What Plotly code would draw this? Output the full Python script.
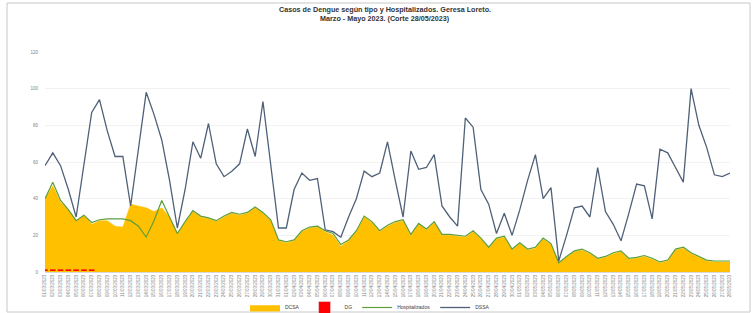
import plotly.graph_objects as go
import pandas as pd

fechas = [d.strftime("%d/%m/%Y") for d in pd.date_range("2023-03-01", "2023-05-28", freq="D")]

dcsa = [40, 47, 38, 34, 28, 31, 26, 28, 28, 25, 24.5, 37, 36, 35, 33, 35, 30, 21, 27, 33,
        30, 29, 27.5, 30, 32, 31, 32, 35, 32, 28, 17, 16, 17, 22, 24, 24.5, 22, 20, 14, 17,
        22, 30, 27, 22, 25, 27, 28, 20, 26, 23, 27, 20, 20, 19.5, 19, 22, 18, 13, 18, 19,
        12, 15.5, 12, 13, 18, 15, 5, 8, 11, 12, 10, 7, 8, 10, 11, 7, 7.5, 8.5, 7, 5,
        6, 12, 13, 10, 8, 6, 5.5, 5.5, 5.5]

dg = [1, 1, 1, 1, 1, 1, 1] + [None] * 82

hosp = [40, 49, 39, 34, 28, 31, 27, 28.5, 29, 29, 29, 28, 25, 19, 28, 39, 30, 21, 27.5, 33.5,
        30.5, 29.5, 28, 30.5, 32.5, 31.5, 32.5, 35.5, 32.5, 28.5, 17.5, 16.5, 17.5, 22.5, 24.5, 25, 22.5, 21, 15, 17.5,
        22.5, 30.5, 27.5, 22.5, 25.5, 27.5, 28.5, 20.5, 26.5, 23.5, 27.5, 20.5, 20.5, 20, 19.5, 22.5, 18.5, 13.5, 18.5, 19.5,
        12.5, 16, 12.5, 13.5, 18.5, 15.5, 5, 8.5, 11.5, 12.5, 10.5, 7.5, 8.5, 10.5, 11.5, 7.5, 8, 9, 7.5, 5.5,
        6.5, 12.5, 13.5, 10.5, 8.5, 6.5, 6, 6, 6]

dssa = [58, 65, 58, 45, 30, 58, 87, 94, 77, 63, 63, 36, 68, 98, 86, 72, 50, 24, 45, 71,
        62, 81, 59, 52, 55, 59, 78, 63, 93, 58, 24, 24, 45, 54, 50, 51, 23, 22, 19, 30,
        40, 55, 52, 54, 71, 50, 30, 66, 56, 57, 64, 36, 30, 25, 84, 79, 45, 37, 21, 32,
        20, 34, 50, 64, 40, 46, 6, 20, 35, 36, 30, 57, 33, 26, 17, 32, 48, 47, 29, 67,
        65, 57, 49, 100, 80, 68, 53, 52, 54]

y_ticks = [0, 20, 40, 60, 80, 100, 120]

titulo_1 = "Casos de Dengue según tipo y Hospitalizados. Geresa Loreto."
titulo_2 = "Marzo - Mayo 2023. (Corte 28/05/2023)"

fig = go.Figure()
fig.add_trace(go.Scatter(x=fechas, y=dcsa, name="DCSA", mode="lines", fill="tozeroy",
                         line=dict(color="#FFC000", width=0.5), fillcolor="#FFC000"))
# DG as bars (legend square swatch)
fig.add_trace(go.Bar(x=fechas, y=dg, name="DG", marker=dict(color="#FF0000"), width=0.5))
# DG marks drawn above the area so they stay visible
fig.add_trace(go.Scatter(x=fechas, y=dg, name="DG", mode="markers", showlegend=False,
                         marker=dict(symbol="line-ew-open", size=4, color="#FF0000",
                                     line=dict(color="#FF0000", width=1.6))))
fig.add_trace(go.Scatter(x=fechas, y=hosp, name="Hospitalizados", mode="lines",
                         line=dict(color="#5E9E3A", width=1.2)))
fig.add_trace(go.Scatter(x=fechas, y=dssa, name="DSSA", mode="lines",
                         line=dict(color="#4F6178", width=1.3)))

W, H = 755, 313
L, R, T, B = 45, 25, 52, 41
pw, ph = W - L - R, H - T - B

def px_x(x):
    return (x - L) / pw

def px_y(y):
    return (H - B - y) / ph

fig.add_shape(type="rect", xref="paper", yref="paper",
              x0=px_x(7), x1=px_x(750), y0=px_y(312), y1=px_y(3),
              line=dict(color="#C8C8C8", width=1), fillcolor="rgba(0,0,0,0)", layer="below")

for txt, yy in ((titulo_1, 9.5), (titulo_2, 18.5)):
    fig.add_annotation(text="<b>" + txt + "</b>", xref="paper", yref="paper",
                       x=px_x(385), y=px_y(yy), xanchor="center", yanchor="middle",
                       showarrow=False,
                       font=dict(family="Liberation Sans", size=7.2, color="#333333"))

fig.update_layout(
    width=W, height=H,
    margin=dict(l=L, r=R, t=T, b=B, autoexpand=False),
    paper_bgcolor="white", plot_bgcolor="white",
    font=dict(family="Liberation Sans", color="#595959"),
    showlegend=True,
    legend=dict(orientation="h", x=px_x(370), xanchor="center", y=px_y(322), yanchor="bottom",
                font=dict(size=5, color="#404040"), tracegroupgap=0, itemwidth=30,
                bgcolor="rgba(0,0,0,0)"),
)
fig.update_xaxes(type="category", range=[0, len(fechas) - 1], tickangle=-90, automargin=False,
                 tickfont=dict(size=4.5, color="#7F7F7F"), showgrid=False,
                 showline=True, linecolor="#D9D9D9", linewidth=1, ticks="")
fig.update_yaxes(range=[0, 120], tickvals=y_ticks, tickfont=dict(size=4.5, color="#7F7F7F"),
                 automargin=False, showgrid=True, gridcolor="#F2F2F2", gridwidth=0.5,
                 zeroline=False, showline=False, ticks="", ticklabelstandoff=6)

fig.write_html("out.html", config={"displayModeBar": False},
               post_script="document.body.style.margin='0px';document.body.style.overflow='hidden';")
